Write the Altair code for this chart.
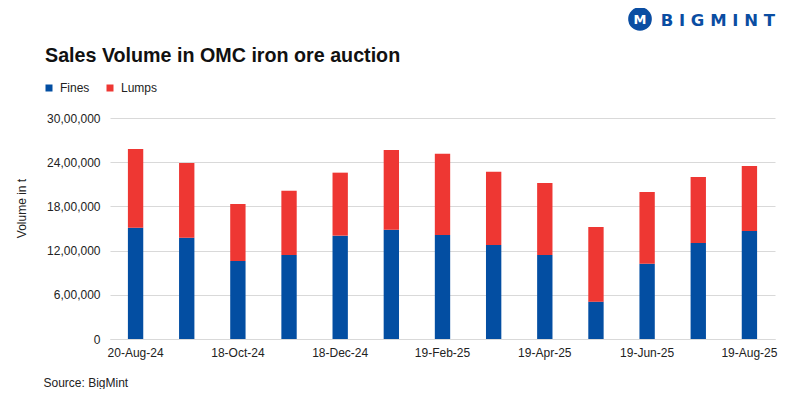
import altair as alt
import pandas as pd

dates = ["20-Aug-24", "19-Sep-24", "18-Oct-24", "19-Nov-24", "18-Dec-24", "20-Jan-25",
         "19-Feb-25", "20-Mar-25", "19-Apr-25", "20-May-25", "19-Jun-25", "18-Jul-25", "19-Aug-25"]
shown_dates = ["20-Aug-24", "18-Oct-24", "18-Dec-24", "19-Feb-25", "19-Apr-25", "19-Jun-25", "19-Aug-25"]
fines = [1511000, 1376000, 1059000, 1140000, 1403000, 1484000, 1412000,
         1276000, 1140000, 507000, 1023000, 1303000, 1466000]
lumps = [1068000, 1013000, 774000, 874000, 855000, 1082000, 1104000,
         996000, 978000, 1013000, 973000, 896000, 883000]
series = ["Fines", "Lumps"]
colors = ["#034EA2", "#EE3733"]
y_ticks = [0, 600000, 1200000, 1800000, 2400000, 3000000]
y_tick_labels = ["0", "6,00,000", "12,00,000", "18,00,000", "24,00,000", "30,00,000"]
title_text = "Sales Volume in OMC iron ore auction"

rows = []
for d, f, l in zip(dates, fines, lumps):
    rows.append({"date": d, "series": "Fines", "value": f, "order": 0})
    rows.append({"date": d, "series": "Lumps", "value": l, "order": 1})
df = pd.DataFrame(rows)

label_expr = "''"
for v, t in zip(reversed(y_ticks), reversed(y_tick_labels)):
    label_expr = f"datum.value == {v} ? '{t}' : ({label_expr})"

FONT = "Liberation Sans"

bars = alt.Chart(df).mark_bar().encode(
    x=alt.X("date:N", sort=dates,
            scale=alt.Scale(paddingInner=0.7, paddingOuter=0.35),
            axis=alt.Axis(values=shown_dates, labelAngle=0, ticks=False,
                          labelPadding=8, labelFontSize=12, labelColor="#222222",
                          labelFont=FONT, domainColor="#d9d9d9", grid=False,
                          title="Source: BigMint", titleX=-67, titleY=43,
                          titleAlign="left", titleBaseline="middle",
                          titleFontSize=12, titleFontWeight="normal",
                          titleFont=FONT, titleColor="#222222")),
    y=alt.Y("value:Q", stack="zero",
            scale=alt.Scale(domain=[0, 3000000]),
            axis=alt.Axis(values=y_ticks, labelExpr=label_expr, domain=False,
                          ticks=False, labelPadding=10, labelFontSize=12,
                          labelFont=FONT, labelColor="#222222",
                          gridColor="#d9d9d9", title="Volume in t",
                          titleX=-89, titleY=90, titleAngle=-90,
                          titleBaseline="middle", titleAlign="center",
                          titleFontSize=12, titleFontWeight="normal",
                          titleFont=FONT, titleColor="#222222")),
    color=alt.Color("series:N", sort=series,
                    scale=alt.Scale(domain=series, range=colors),
                    legend=alt.Legend(title=None, orient="none", legendX=-67,
                                      legendY=-36, direction="horizontal",
                                      symbolType="square", symbolSize=49,
                                      symbolStrokeWidth=0, labelFontSize=12,
                                      labelFont=FONT, labelColor="#222222",
                                      labelOffset=5, columnPadding=14)),
    order=alt.Order("order:Q"),
)

logo_df = pd.DataFrame({"name": ["B I G M I N T"], "icon": ["M"], "title": [title_text]})
title_mark = alt.Chart(logo_df).mark_text(
    font=FONT, fontWeight="bold", fontSize=19.7, color="#111111",
    align="left", baseline="alphabetic"
).encode(x=alt.value(-65), y=alt.value(-56), text="title:N")
logo_text = alt.Chart(logo_df).mark_text(
    font="DejaVu Sans", fontWeight="bold", fontSize=16.5, color="#0A4DA2",
    align="right", baseline="alphabetic"
).encode(x=alt.value(665), y=alt.value(-92), text="name:N")
logo_circle = alt.Chart(logo_df).mark_point(
    shape="circle", filled=True, color="#0A4DA2", opacity=1
).encode(x=alt.value(530), y=alt.value(-99), size=alt.value(560))
logo_icon = alt.Chart(logo_df).mark_text(
    font="DejaVu Sans", fontWeight="bold", fontSize=13, color="white",
    align="center", baseline="middle"
).encode(x=alt.value(530), y=alt.value(-98), text="icon:N")

chart = alt.layer(bars, title_mark, logo_circle, logo_icon, logo_text).properties(
    width=665, height=221,
    background="white",
    autosize=alt.AutoSizeParams(type="none"),
    padding={"left": 102, "top": 110, "right": 16, "bottom": 50},
).configure_view(stroke=None)

chart.save("out.html", embed_options={"renderer": "svg", "actions": False})
